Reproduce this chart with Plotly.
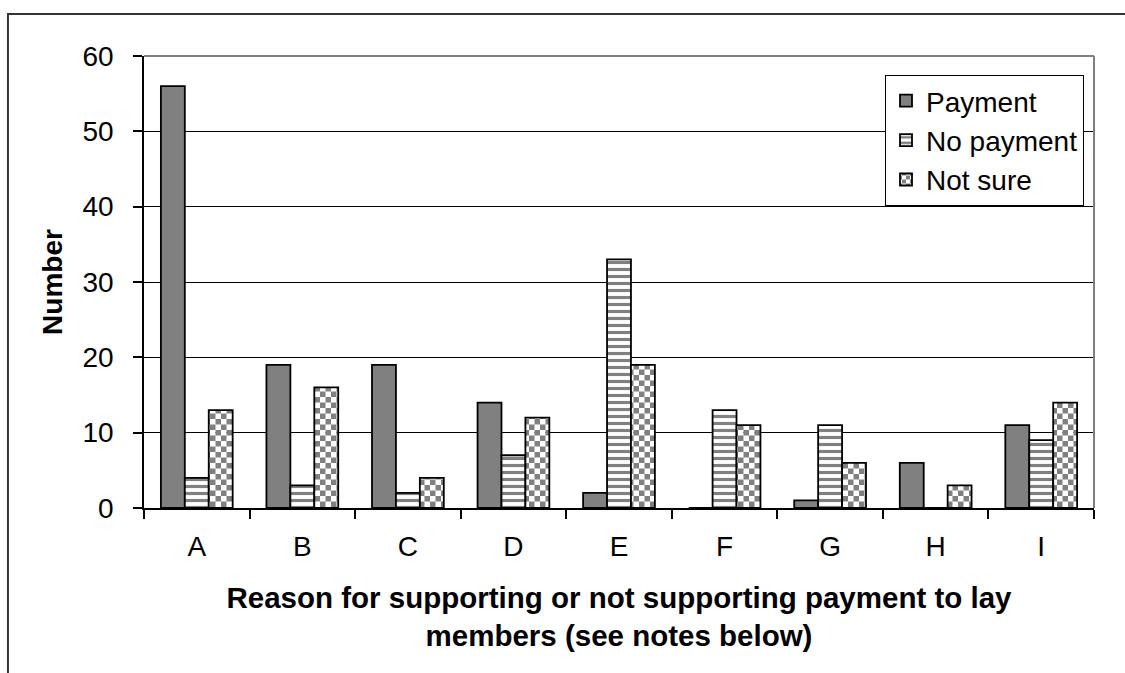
import plotly.graph_objects as go

# Survey responses per reason code
categories = ["A", "B", "C", "D", "E", "F", "G", "H", "I"]
payment = [56, 19, 19, 14, 2, 0, 1, 6, 11]
no_payment = [4, 3, 2, 7, 33, 13, 11, 0, 9]
not_sure = [13, 16, 4, 12, 19, 11, 6, 3, 14]
y_ticks = [0, 10, 20, 30, 40, 50, 60]

FONT = "Liberation Sans, Arial, sans-serif"
GREY = "#808080"
OUTLINE = dict(color="#000000", width=1.8)

fig = go.Figure()
fig.add_trace(go.Bar(
    name="Payment", x=categories, y=payment,
    marker=dict(color=GREY, line=OUTLINE),
))
fig.add_trace(go.Bar(
    name="No payment", x=categories, y=no_payment,
    marker=dict(color="#ffffff", line=OUTLINE,
                pattern=dict(shape="-", size=7, solidity=0.45,
                             fgcolor=GREY, bgcolor="#ffffff", fillmode="replace")),
))
fig.add_trace(go.Bar(
    name="Not sure", x=categories, y=not_sure,
    marker=dict(color="#ffffff", line=OUTLINE,
                pattern=dict(shape=".", size=11, solidity=0.5,
                             fgcolor=GREY, bgcolor="#ffffff", fillmode="replace")),
))

fig.update_layout(
    width=1125, height=673,
    margin=dict(l=144, r=31, t=56, b=165),
    paper_bgcolor="#ffffff", plot_bgcolor="#ffffff",
    font=dict(family=FONT, size=28, color="#000000"),
    barmode="group", bargap=0.32, bargroupgap=0,
    showlegend=True,
    legend=dict(
        x=0.78, y=0.958, xanchor="left", yanchor="top",
        bgcolor="#ffffff", bordercolor="#000000", borderwidth=1,
        font=dict(family=FONT, size=28, color="#000000"),
        traceorder="normal", tracegroupgap=0,
    ),
    xaxis=dict(
        type="category", tickson="boundaries",
        ticks="outside", ticklen=9, tickwidth=1.5, tickcolor="#000000",
        showline=True, linecolor="#000000", linewidth=1.5,
        showgrid=False, ticklabelstandoff=13,
        tickfont=dict(family=FONT, size=28),
        title=dict(
            text="Reason for supporting or not supporting payment to lay<br>members (see notes below)",
            font=dict(family=FONT, size=29.5, weight="bold"),
            standoff=26,
        ),
    ),
    yaxis=dict(
        range=[0, 60], tickvals=y_ticks,
        ticks="outside", ticklen=9, tickwidth=1.5, tickcolor="#000000",
        showline=True, linecolor="#000000", linewidth=1.5,
        showgrid=True, gridcolor="#000000", gridwidth=1,
        zeroline=False, ticklabelstandoff=14,
        tickfont=dict(family=FONT, size=28),
        title=dict(text="Number", font=dict(family=FONT, size=28, weight="bold"),
                   standoff=12),
    ),
    shapes=[
        # plot-area frame on the top and right
        dict(type="line", xref="paper", yref="paper", x0=0, x1=1, y0=1, y1=1,
             line=dict(color=GREY, width=2)),
        dict(type="line", xref="paper", yref="paper", x0=1, x1=1, y0=0, y1=1,
             line=dict(color=GREY, width=2)),
        # outer chart frame
        dict(type="rect", xref="paper", yref="paper",
             x0=-0.1432, x1=1.05, y0=-0.40, y1=1.093,
             line=dict(color="#333333", width=2), fillcolor="rgba(0,0,0,0)"),
    ],
)

# Turn the dotted fill of "Not sure" into a checkerboard
checker_js = """
var NS = 'http://www.w3.org/2000/svg';
document.querySelectorAll('pattern').forEach(function (p) {
  if (!p.querySelector('circle')) return;
  var s = parseFloat(p.getAttribute('width'));
  var h = s / 2;
  while (p.firstChild) p.removeChild(p.firstChild);
  [[0, 0, '#ffffff'], [h, h, '#ffffff'], [h, 0, '#808080'], [0, h, '#808080']].forEach(function (q) {
    var r = document.createElementNS(NS, 'rect');
    r.setAttribute('x', q[0]);
    r.setAttribute('y', q[1]);
    r.setAttribute('width', h);
    r.setAttribute('height', h);
    r.setAttribute('fill', q[2]);
    p.appendChild(r);
  });
});
"""

fig.write_html("out.html", post_script=checker_js)
